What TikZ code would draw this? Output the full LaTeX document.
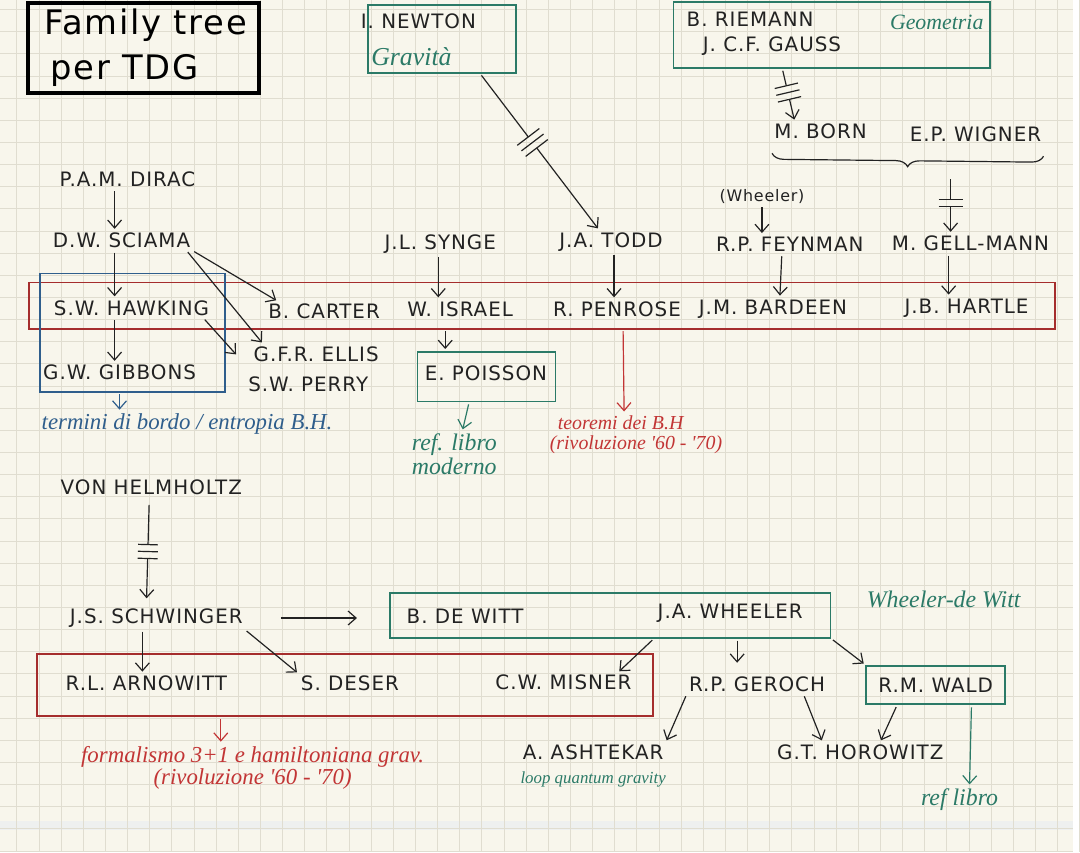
\documentclass[tikz,border=0pt]{standalone}
\usepackage{fontspec}
\setmainfont{DejaVu Sans}[LetterSpace=5]
\newfontfamily\handfont{Liberation Serif}
\usetikzlibrary{positioning, fit, calc, arrows.meta, decorations.pathreplacing, decorations.markings}

\definecolor{paper}{HTML}{F8F6EC}
\definecolor{gridcol}{HTML}{E0DDD0}
\definecolor{fold}{HTML}{EEF0EF}
\definecolor{ink}{HTML}{222222}
\definecolor{tdgreen}{HTML}{2B7A67}
\definecolor{tdred}{HTML}{C23535}
\definecolor{tdblue}{HTML}{2F5E8C}

\tikzset{
    person/.style={font=\fontsize{10}{12}\selectfont, text=ink, inner sep=1pt},
    remark/.style={font=\handfont\itshape\fontsize{#1}{#1}\selectfont, inner sep=1pt, align=center},
    greenbox/.style={draw=tdgreen, line width=0.9pt, inner sep=0pt},
    redbox/.style={draw=tdred!85!black, line width=0.9pt, inner sep=0pt},
    bluebox/.style={draw=tdblue, line width=0.9pt, inner sep=0pt},
    conn/.style={-{Straight Barb[length=4pt, width=7pt]}, line width=0.6pt, draw=ink, shorten >=1pt, shorten <=1pt},
    gridline/.style={draw=gridcol, line width=0.4pt},
    % cut marks across a connector: position, number of bars, half length
    cuts/.style n args={3}{postaction={decorate, decoration={markings,
        mark=at position #1 with {
            \fill[paper] ({-(#2-1)*1.75pt},-1pt) rectangle ({(#2-1)*1.75pt},1pt);
            \foreach \k in {1,...,#2}
                \draw[-, line width=0.6pt] ({(\k-(#2+1)/2)*3.5pt},-#3) -- ({(\k-(#2+1)/2)*3.5pt},#3);
        }}}},
}

\begin{document}
\begin{tikzpicture}[x=0.5pt, y=-0.5pt]

    % paper
    \fill[paper] (0,0) rectangle (1080,858);
    \fill[fold] (0,826) rectangle (1080,836);
    \foreach \gx in {0,...,48}
        \draw[gridline] ({16.5+22.3*\gx},0) -- ({16.5+22.3*\gx},858);
    \foreach \gy in {0,...,38}
        \draw[gridline] (0,{9.2+22.3*\gy}) -- (1080,{9.2+22.3*\gy});
    \useasboundingbox (0,0) rectangle (1080,858);

    % title
    \node[font=\fontsize{17}{20}\selectfont, anchor=west, inner sep=0pt] (title1) at (44,25) {Family tree};
    \node[font=\fontsize{17}{20}\selectfont, below right=6pt and 3pt of title1.south west, anchor=north west, inner sep=0pt] (title2) {per TDG};
    \node[draw=black, line width=2pt, inner sep=0pt, fit={(28,3) (260,93)}] (titlebox) {};

    % Newton
    \node[person] (newtonname) at (421,21) {I. NEWTON};
    \node[remark=13, text=tdgreen] (gravita) at (414,57) {Gravità};
    \node[greenbox, fit={(370,5) (519,73)}] (newton) {};

    % Riemann, Gauss
    \node[person] (riemann) at (755,19) {B. RIEMANN};
    \node[person] (gauss) at (777,46) {J. C.F. GAUSS};
    \node[remark=11, text=tdgreen] (geometria) at (943,22) {Geometria};
    \node[greenbox, fit={(678,2) (997,68)}] (geom) {};

    \node[person] (born) at (826,132) {M. BORN};
    \node[person] (wigner) at (982,135) {E.P. WIGNER};
    \coordinate (bornwigner) at (957,178);

    % generation above the black-hole row
    \node[person] (dirac) at (128,180) {P.A.M. DIRAC};
    \node[person] (sciama) at (122,242) {D.W. SCIAMA};
    \node[person] (synge) at (443,245) {J.L. SYNGE};
    \node[person] (todd) at (615,243) {J.A. TODD};
    \node[person, font=\fontsize{8}{9}\selectfont] (wheelerhint) at (767,197) {(Wheeler)};
    \node[person] (feynman) at (795,246) {R.P. FEYNMAN};
    \node[person] (gellmann) at (977,245) {M. GELL-MANN};

    % black-hole row
    \node[person] (hawking) at (132,310) {S.W. HAWKING};
    \node[person] (carter) at (326,313) {B. CARTER};
    \node[person] (israel) at (463,311) {W. ISRAEL};
    \node[person] (penrose) at (621,311) {R. PENROSE};
    \node[person] (bardeen) at (778,311) {J.M. BARDEEN};
    \node[person] (hartle) at (973,310) {J.B. HARTLE};
    \node[redbox, fit={(29,284) (1062,331)}] (bhrow) {};

    \node[person] (gibbons) at (120,375) {G.W. GIBBONS};
    \node[bluebox, fit={(40,275) (226,394)}] (cambridge) {};
    \node[person] (ellis) at (318,356) {G.F.R. ELLIS};
    \node[person] (perry) at (310,387) {S.W. PERRY};
    \node[remark=11.5, text=tdblue] (bordo) at (188,427) {termini di bordo / entropia B.H.};

    \node[person] (poisson) at (489,376) {E. POISSON};
    \node[greenbox, fit={(420,354) (559,404)}] (poissonbox) {};
    \node[remark=12, text=tdgreen, align=left, anchor=north west] (libro1) at (412,434) {ref. libro\\moderno};
    \node[remark=10, text=tdred, align=left, anchor=north west] (teoremi) at (551,416) {\hspace{4pt}teoremi dei B.H\\(rivoluzione '60 - '70)};

    % Helmholtz line
    \node[person] (helmholtz) at (152,490) {VON HELMHOLTZ};
    \node[person] (schwinger) at (157,622) {J.S. SCHWINGER};
    \node[person] (dewitt) at (468,620) {B. DE WITT};
    \node[person] (wheeler) at (735,617) {J.A. WHEELER};
    \node[greenbox, fit={(392,597) (836,642)}] (wdwbox) {};
    \node[remark=12, text=tdgreen] (wdw) at (950,603) {Wheeler-de Witt};

    \node[person] (arnowitt) at (147,688) {R.L. ARNOWITT};
    \node[person] (deser) at (352,688) {S. DESER};
    \node[person] (misner) at (567,687) {C.W. MISNER};
    \node[redbox, fit={(37,658) (657,721)}] (admbox) {};
    \node[remark=11.5, text=tdred] (adm) at (254,773) {formalismo 3+1 e hamiltoniana grav.\\(rivoluzione '60 - '70)};

    \node[person] (geroch) at (762,689) {R.P. GEROCH};
    \node[person] (wald) at (942,690) {R.M. WALD};
    \node[greenbox, fit={(872,670) (1012,709)}] (waldbox) {};
    \node[person] (ashtekar) at (597,757) {A. ASHTEKAR};
    \node[remark=8.5, text=tdgreen] (lqg) at (597,785) {loop quantum gravity};
    \node[person] (horowitz) at (866,757) {G.T. HOROWITZ};
    \node[remark=12, text=tdgreen] (libro2) at (966,805) {ref libro};

    % upper connectors
    \draw[conn, cuts={0.44}{3}{8pt}] (newton.-42) -- ([xshift=-6pt]todd.north);
    \draw[conn, cuts={0.45}{3}{7pt}] ([xshift=-25pt]geom.south) -- ([xshift=-13pt]born.north);
    \draw[decorate, decoration={brace, mirror, amplitude=6pt}, line width=0.6pt, ink]
        ([yshift=-6pt]born.south west) -- ([yshift=-6pt]wigner.south east);
    \draw[conn, cuts={0.45}{2}{7pt}] (bornwigner) -- ([xshift=-10pt]gellmann.north);
    \draw[conn] ([xshift=-6.5pt]dirac.south) -- ([xshift=-3.5pt]sciama.north);
    \draw[conn] ([xshift=-3.5pt]sciama.south) -- ([xshift=-8.5pt]hawking.north);
    \draw[conn] (sciama.south east) -- ([xshift=6pt]carter.north west);
    \draw[conn] ([xshift=-3pt]sciama.south east) -- ([xshift=6pt]ellis.north west);
    \draw[conn] ([xshift=-1pt]synge.south) -- ([xshift=-11pt]israel.north);
    \draw[conn] ([xshift=1.5pt]todd.south) -- ([xshift=-1.5pt]penrose.north);
    \draw[conn] (wheelerhint.south) -- ([xshift=-14pt]feynman.north);
    \draw[conn] ([xshift=-4pt]feynman.south) -- ([xshift=3.5pt]bardeen.north);
    \draw[conn] ([xshift=-11pt]gellmann.south) -- ([xshift=-9pt]hartle.north);

    % below the black-hole row
    \draw[conn] ([xshift=-8.5pt]hawking.south) -- ([xshift=-2.5pt]gibbons.north);
    \draw[conn] ([xshift=-4pt]hawking.south east) -- ([xshift=-7pt, yshift=-1pt]ellis.west);
    \draw[conn, draw=tdblue] ([xshift=-6.5pt]cambridge.south) -- ([xshift=-34pt]bordo.north);
    \draw[conn, shorten <=6pt] ([xshift=-7.5pt]israel.south) -- ([xshift=-20.75pt]poissonbox.north);
    \draw[conn, draw=tdgreen] ([xshift=-8.75pt]poissonbox.south) -- ([xshift=4pt]libro1.north);
    \draw[conn, draw=tdred, shorten <=6pt] ([xshift=3pt]penrose.south) -- ([xshift=-6pt]teoremi.north);

    % lower connectors
    \draw[conn, cuts={0.5}{3}{9pt}, shorten <=4pt, shorten >=4pt] ([xshift=-1pt]helmholtz.south) -- ([xshift=-5pt]schwinger.north);
    \draw[conn, shorten <=18pt, shorten >=16pt] (schwinger.east) -- (schwinger.east -| wdwbox.west);
    \draw[conn] ([xshift=-7pt]schwinger.south) -- ([xshift=-2pt]arnowitt.north);
    \draw[conn] (schwinger.south east) -- (deser.north west);
    \draw[conn] ([xshift=22pt]wdwbox.south) -- ([xshift=-8pt]misner.north east);
    \draw[conn, shorten >=6pt] ([xshift=64pt]wdwbox.south) -- ([xshift=-10pt]geroch.north);
    \draw[conn] (wdwbox.south east) -- (waldbox.north west);
    \draw[conn] (geroch.south west) -- (ashtekar.north east);
    \draw[conn] ([xshift=-12pt]geroch.south east) -- ([xshift=-19pt]horowitz.north);
    \draw[conn] ([xshift=-19.5pt]waldbox.south) -- ([xshift=10pt]horowitz.north);
    \draw[conn, draw=tdgreen] ([xshift=18pt]waldbox.south) -- ([xshift=5pt]libro2.north);
    \draw[conn, draw=tdred] ([xshift=-62.5pt]admbox.south) -- ([xshift=-16pt]adm.north);

\end{tikzpicture}
\end{document}
